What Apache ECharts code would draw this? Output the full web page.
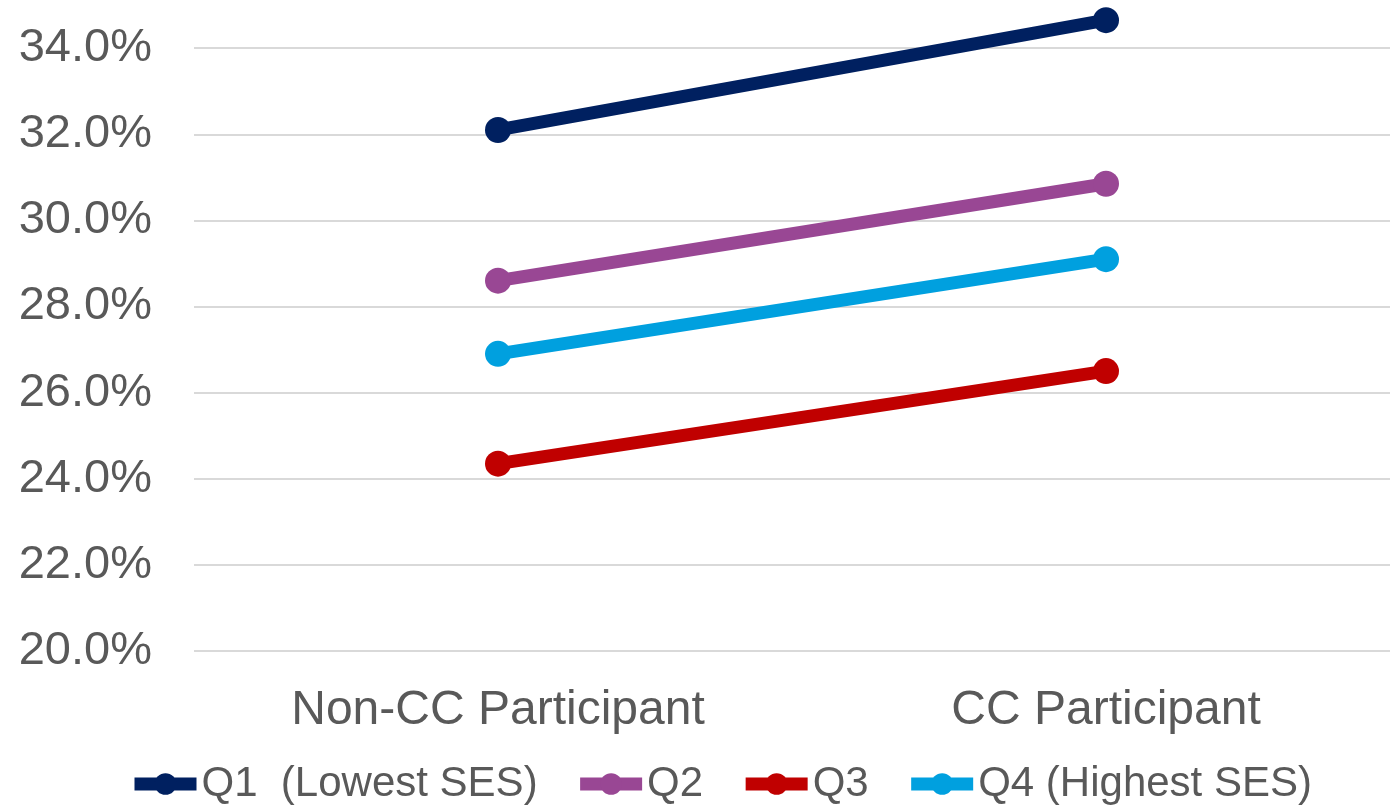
<!DOCTYPE html>
<html>
<head>
<meta charset="utf-8">
<script src="https://cdn.jsdelivr.net/npm/echarts@6/dist/echarts.min.js"></script>
<style>
  html, body { margin: 0; padding: 0; background: #ffffff; overflow: hidden; width: 1390px; height: 805px; }
  #chart { position: absolute; left: 0; top: -38px; width: 1410px; height: 843px; }
</style>
</head>
<body>
<div id="chart"></div>
<script>
const categories = ['Non-CC Participant', 'CC Participant'];
const seriesNames = ['Q1  (Lowest SES)', 'Q2', 'Q3', 'Q4 (Highest SES)'];
const q1 = [32.1, 34.65];
const q2 = [28.6, 30.85];
const q3 = [24.35, 26.5];
const q4 = [26.9, 29.1];
const colors = ['#002060', '#994794', '#C00000', '#00A0DF'];
const yMin = 20, yMax = 36, yStep = 2;

const dataSets = [q1, q2, q3, q4];
const chart = echarts.init(document.getElementById('chart'), null, { renderer: 'canvas' });
const font = '"Liberation Sans", Arial, sans-serif';

chart.setOption({
  animation: false,
  backgroundColor: '#ffffff',
  grid: { left: 194, right: 0, top: 0, bottom: 154, containLabel: false, outerBoundsMode: 'none' },
  xAxis: {
    type: 'category',
    data: categories,
    boundaryGap: true,
    axisLine: { show: false },
    axisTick: { show: false },
    axisLabel: { color: '#595959', fontFamily: font, fontSize: 48, margin: 36 }
  },
  yAxis: {
    type: 'value',
    min: yMin, max: yMax, interval: yStep,
    axisLine: { show: false },
    axisTick: { show: false },
    splitLine: { lineStyle: { color: '#d9d9d9', width: 2 } },
    axisLabel: {
      color: '#595959', fontFamily: font, fontSize: 47, margin: 42,
      formatter: v => v.toFixed(1) + '%'
    }
  },
  legend: {
    left: 128, top: 801, padding: 0,
    itemWidth: 62, itemHeight: 27, itemGap: 36,
    lineStyle: { width: 13 },
    textStyle: { color: '#595959', fontFamily: font, fontSize: 42 },
    data: seriesNames
  },
  series: seriesNames.map((n, i) => ({
    name: n,
    type: 'line',
    data: dataSets[i],
    color: colors[i],
    symbol: 'circle',
    symbolSize: 26,
    lineStyle: { width: 13, color: colors[i] },
    itemStyle: { color: colors[i] }
  }))
});
</script>
</body>
</html>
